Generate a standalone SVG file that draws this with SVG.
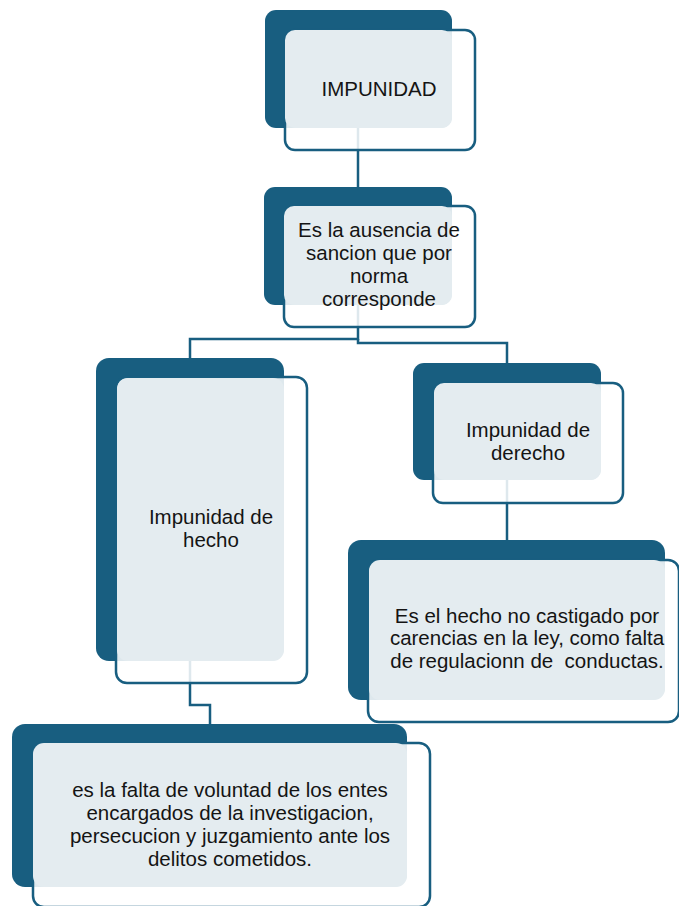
<svg xmlns="http://www.w3.org/2000/svg" width="679" height="906" viewBox="0 0 679 906">
  <style>
    .dark { fill: #185E80; }
    .light { fill: #E4ECF0; }
    .frame { fill: #FFFFFF; fill-opacity: 0.86; stroke: #185E80; stroke-width: 2.5; }
    .conn { fill: none; stroke: #185E80; stroke-width: 2.5; }
    text { font-family: "Liberation Sans", Arial, sans-serif; font-size: 20.5px; fill: #141414; text-anchor: middle; }
  </style>
  <rect width="679" height="906" fill="#FFFFFF"/>
  <g id="connectors">
    <path class="conn" d="M358,128 V187"/>
    <path class="conn" d="M358,305 V339 H190 V358"/>
    <path class="conn" d="M358,339 V343 H507 V363"/>
    <path class="conn" d="M190,661 V705 H210 V724"/>
    <path class="conn" d="M507,480 V540"/>
  </g>
  <g id="node-impunidad">
    <rect class="dark" x="265" y="10" width="187" height="118" rx="11"/>
    <rect class="frame" x="285" y="30" width="190" height="120" rx="10"/>
    <rect class="light" x="285" y="30" width="167" height="98" rx="10"/>
    <text x="379" y="96">IMPUNIDAD</text>
  </g>
  <g id="node-definicion">
    <rect class="dark" x="264" y="187" width="188" height="118" rx="11"/>
    <rect class="frame" x="284" y="206" width="191" height="121" rx="10"/>
    <rect class="light" x="284" y="206" width="168" height="99" rx="10"/>
    <text x="379" y="237">Es la ausencia de</text>
    <text x="379" y="260">sancion que por</text>
    <text x="379" y="283">norma</text>
    <text x="379" y="306">corresponde</text>
  </g>
  <g id="node-hecho">
    <rect class="dark" x="96" y="358" width="188" height="303" rx="13"/>
    <rect class="frame" x="116" y="377" width="191" height="306" rx="11"/>
    <rect class="light" x="117" y="378" width="167" height="283" rx="11"/>
    <text x="211" y="524">Impunidad de</text>
    <text x="211" y="547">hecho</text>
  </g>
  <g id="node-derecho">
    <rect class="dark" x="413" y="363" width="188" height="117" rx="11"/>
    <rect class="frame" x="433" y="383" width="190" height="120" rx="10"/>
    <rect class="light" x="434" y="383" width="167" height="97" rx="10"/>
    <text x="528" y="437">Impunidad de</text>
    <text x="528" y="460">derecho</text>
  </g>
  <g id="node-derecho-def">
    <rect class="dark" x="348" y="540" width="317" height="160" rx="13"/>
    <rect class="frame" x="368" y="560" width="311" height="162" rx="11"/>
    <rect class="light" x="369" y="560" width="296" height="140" rx="11"/>
    <text x="527" y="623">Es el hecho no castigado por</text>
    <text x="527" y="645">carencias en la ley, como falta</text>
    <text x="527" y="668" xml:space="preserve">de regulacionn de  conductas.</text>
  </g>
  <g id="node-hecho-def">
    <rect class="dark" x="12" y="724" width="395" height="163" rx="13"/>
    <rect class="frame" x="33" y="743" width="397" height="164" rx="11"/>
    <rect class="light" x="33" y="743" width="374" height="144" rx="11"/>
    <text x="230" y="797">es la falta de voluntad de los entes</text>
    <text x="230" y="820">encargados de la investigacion,</text>
    <text x="230" y="843">persecucion y juzgamiento ante los</text>
    <text x="230" y="866">delitos cometidos.</text>
  </g>
</svg>
